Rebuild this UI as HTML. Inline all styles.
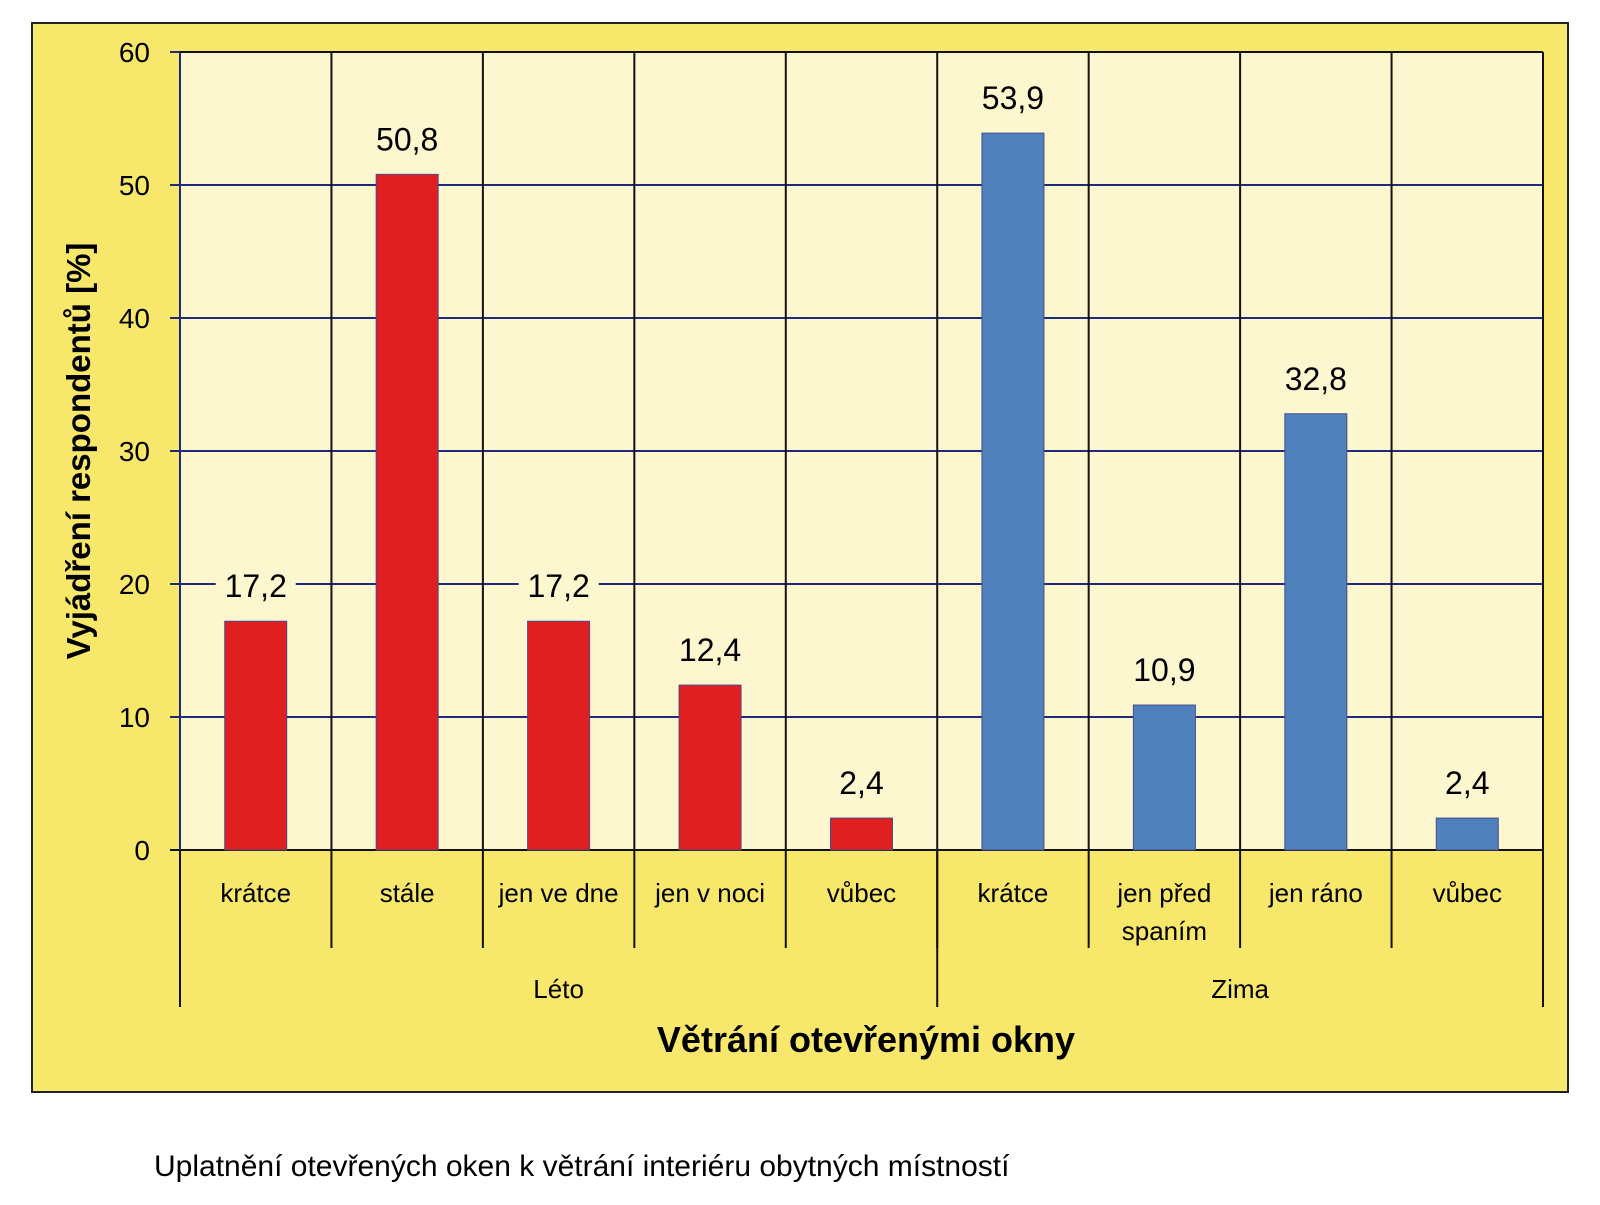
<!DOCTYPE html>
<html><head><meta charset="utf-8"><style>
body{margin:0;width:1600px;height:1200px;background:#fff;overflow:hidden}
text{font-family:"Liberation Sans",sans-serif}
</style></head><body>
<svg id="c" width="1600" height="1200" xmlns="http://www.w3.org/2000/svg">
<rect x="32" y="23" width="1536" height="1069" fill="#f7e86b" stroke="#222" stroke-width="2"/>
<rect x="180" y="52" width="1363" height="798" fill="#fdf7cf"/>
<g id="grid"></g><g id="bars"></g><g id="labels"></g>
<text x="90" y="451" transform="rotate(-90 90 451)" text-anchor="middle" font-size="33" font-weight="bold">Vyjádření respondentů [%]</text>
<text x="866" y="1052" text-anchor="middle" font-size="36" font-weight="bold">Větrání otevřenými okny</text>
<text x="154" y="1176" font-size="30">Uplatnění otevřených oken k větrání interiéru obytných místností</text>
</svg>
<script>
const categories=["krátce","stále","jen ve dne","jen v noci","vůbec","krátce","jen před|spaním","jen ráno","vůbec"];
const values=[17.2,50.8,17.2,12.4,2.4,53.9,10.9,32.8,2.4];
const valueLabels=["17,2","50,8","17,2","12,4","2,4","53,9","10,9","32,8","2,4"];
const groups=["Léto","Zima"];
const groupSizes=[5,4];
const yTicks=[0,10,20,30,40,50,60];
const NS="http://www.w3.org/2000/svg";
const L=180,R=1543,T=52,B=850,yMax=60;
const cw=(R-L)/categories.length;
const y=v=>B-(v/yMax)*(B-T);
const x=i=>L+i*cw;
function mk(p,tag,a){const e=document.createElementNS(NS,tag);for(const k in a)e.setAttribute(k,a[k]);p.appendChild(e);return e;}
const g=document.getElementById('grid'),b=document.getElementById('bars'),lb=document.getElementById('labels');
yTicks.forEach(t=>{
 const ln=mk(g,'line',{x1:L-10,x2:R,y1:y(t),y2:y(t),stroke:t===0?'#111':'#1f2a7a','stroke-width':2});
 
 
 const tx=mk(g,'text',{x:L-30,y:y(t)+10,'text-anchor':'end','font-size':28});
 tx.textContent=t;
 
 
});
mk(g,'line',{x1:L,x2:L,y1:T,y2:B,stroke:'#1f2a7a','stroke-width':2});
mk(g,'line',{x1:L,x2:R,y1:T,y2:T,stroke:'#111','stroke-width':2});
for(let i=1;i<=categories.length;i++){
 const ln=mk(g,'line',{x1:x(i),x2:x(i),y1:T,y2:948,stroke:'#111','stroke-width':2});
 
 
}
let start=0;
mk(g,'line',{x1:L,x2:L,y1:B,y2:1007,stroke:'#111','stroke-width':2});
groups.forEach((gr,gi)=>{
 const end=start+groupSizes[gi];
 const ln=mk(g,'line',{x1:x(end),x2:x(end),y1:B,y2:1007,stroke:'#111','stroke-width':2});
 
 
 const t=mk(lb,'text',{x:(x(start)+x(end))/2,y:998,'text-anchor':'middle','font-size':26});
 t.textContent=gr;
 
 
 start=end;
});
values.forEach((v,i)=>{
 const col=i<groupSizes[0]?'#e02020':'#4f81bd';
 const cx=x(i)+cw/2;
 const r=mk(b,'rect',{x:cx-31,y:y(v),width:62,height:B-y(v),fill:col,stroke:'#4a4a8a','stroke-width':1});
 
 
 const bg=mk(lb,'rect',{x:cx-40,y:y(v)-58,width:80,height:38,fill:'#fdf7cf'});
 const t=mk(lb,'text',{x:cx,y:y(v)-24,'text-anchor':'middle','font-size':32});
 t.textContent=valueLabels[i];
 
 
 const parts=categories[i].split('|');
 parts.forEach((p,k)=>{
  const c=mk(lb,'text',{x:cx,y:902+k*38,'text-anchor':'middle','font-size':26});
  c.textContent=p;
  
  
 });
});
</script>
</body></html>
